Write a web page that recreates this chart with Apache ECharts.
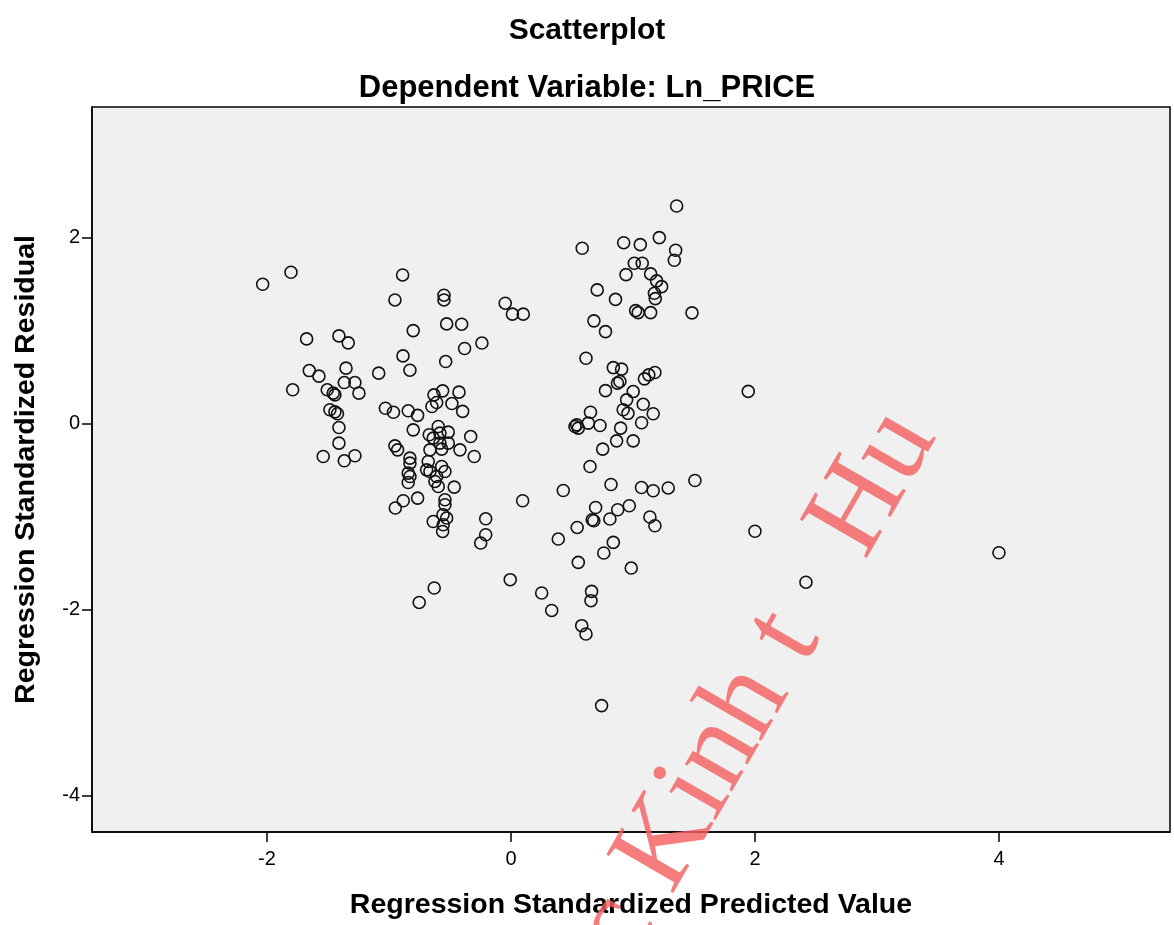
<!DOCTYPE html>
<html>
<head>
<meta charset="utf-8">
<title>Scatterplot</title>
<script src="https://cdn.jsdelivr.net/npm/echarts@6/dist/echarts.min.js"></script>
<style>
  html, body { margin: 0; padding: 0; background: #ffffff; }
  #chart { width: 1174px; height: 925px; }
</style>
</head>
<body>
<div id="chart"></div>
<script>
// Regression standardized predicted values (x) and standardized residuals (y)
const predicted = [
  -2.035, -1.803, -0.888, -0.951, -0.549, -0.549, -0.047, 0.012, 0.101, -1.675,
  -1.410, -1.334, -0.801, -0.527, -0.404, -0.238, -0.380, -0.885, -0.828, -0.535,
  -1.653, -1.574, -1.352, -1.084, -1.789, -1.366, -1.279, -1.246, -1.506, -1.457,
  -1.443, -0.631, -0.560, -0.484, -0.426, -0.648, -0.609, -1.484, -1.443, -1.422,
  -1.029, -0.963, -0.842, -0.765, -0.396, -1.410, -1.410, -1.539, -1.366, -1.279,
  -0.801, -0.951, -0.929, -0.828, -0.828, -0.842, -0.828, -0.842, -0.670, -0.637,
  -0.596, -0.582, -0.514, -0.582, -0.514, -0.664, -0.568, -0.418, -0.330, -0.301,
  -0.678, -0.691, -0.664, -0.609, -0.623, -0.568, -0.541, -0.596, -0.465, -0.541,
  -0.541, -0.557, -0.527, -0.555, -0.560, -0.637, -0.765, -0.883, -0.948, -0.207,
  -0.207, -0.248, -0.006, -0.629, -0.752, 0.096, 1.358, 0.584, 0.924, 1.060,
  1.216, 1.350, 1.339, 1.011, 1.076, 0.943, 1.145, 1.194, 1.235, 1.176,
  1.183, 0.707, 0.857, 1.022, 1.043, 1.145, 1.484, 0.680, 0.775, 0.615,
  0.839, 0.907, 0.775, 0.873, 0.893, 1.094, 1.130, 1.180, 1.002, 0.948,
  1.084, 0.920, 0.652, 1.166, 0.959, 1.071, 0.899, 0.866, 1.002, 0.752,
  0.648, 0.429, 0.820, 1.070, 1.166, 1.289, 1.508, 0.694, 0.666, 0.679,
  0.875, 0.970, 0.811, 0.543, 0.388, 1.139, 1.180, 0.839, 0.761, 0.552,
  0.986, 0.539, 0.552, 0.525, 0.634, 0.730, 0.252, 0.334, 0.661, 0.656,
  0.580, 0.615, 0.743, 1.945, 2.000, 2.418, 4.000
];
const residual = [
  1.502, 1.631, 1.602, 1.333, 1.384, 1.333, 1.298, 1.180, 1.180, 0.914,
  0.946, 0.871, 1.003, 1.075, 1.072, 0.869, 0.810, 0.731, 0.577, 0.670,
  0.573, 0.513, 0.599, 0.545, 0.366, 0.444, 0.444, 0.330, 0.366, 0.330,
  0.312, 0.312, 0.355, 0.218, 0.341, 0.186, 0.229, 0.151, 0.129, 0.108,
  0.167, 0.124, 0.140, 0.091, 0.134, -0.040, -0.208, -0.352, -0.398, -0.344,
  -0.065, -0.237, -0.280, -0.369, -0.423, -0.530, -0.567, -0.631, -0.118, -0.154,
  -0.029, -0.100, -0.089, -0.208, -0.208, -0.280, -0.272, -0.280, -0.137, -0.352,
  -0.405, -0.495, -0.513, -0.567, -0.620, -0.459, -0.513, -0.674, -0.681, -0.817,
  -0.871, -0.978, -1.014, -1.086, -1.158, -1.051, -0.799, -0.828, -0.906, -1.022,
  -1.194, -1.283, -1.677, -1.767, -1.922, -0.828, 2.344, 1.889, 1.949, 1.928,
  2.003, 1.868, 1.760, 1.728, 1.728, 1.605, 1.613, 1.538, 1.476, 1.405,
  1.347, 1.441, 1.339, 1.218, 1.197, 1.197, 1.194, 1.108, 0.992, 0.706,
  0.605, 0.588, 0.357, 0.438, 0.455, 0.484, 0.527, 0.552, 0.347, 0.258,
  0.210, 0.151, 0.124, 0.108, 0.113, 0.011, -0.046, -0.183, -0.183, -0.272,
  -0.459, -0.717, -0.653, -0.685, -0.720, -0.690, -0.610, -0.900, -1.032, -1.043,
  -0.925, -0.882, -1.024, -1.115, -1.240, -1.003, -1.097, -1.276, -1.390, -1.491,
  -1.552, -0.011, -0.046, -0.029, 0.008, -0.018, -1.820, -2.008, -1.803, -1.903,
  -2.172, -2.261, -3.032, 0.349, -1.156, -1.704, -1.387
];

// Tick labels on each axis
const xTicks = [-2, 0, 2, 4];
const yTicks = [-4, -2, 0, 2];

const points = predicted.map((x, i) => [x, residual[i]]);

const sans = '"Liberation Sans", Arial, sans-serif';

const chart = echarts.init(document.getElementById('chart'), null, { renderer: 'canvas' });

chart.setOption({
  animation: false,
  backgroundColor: '#ffffff',
  title: [
    {
      text: 'Scatterplot',
      left: 'center',
      top: 11,
      textStyle: { fontFamily: sans, fontSize: 30, fontWeight: 'bold', color: '#000' }
    },
    {
      text: 'Dependent Variable: Ln_PRICE',
      left: 'center',
      top: 68,
      textStyle: { fontFamily: sans, fontSize: 31, fontWeight: 'bold', color: '#000' }
    }
  ],
  grid: {
    left: 92,
    top: 107,
    right: 4,
    bottom: 92,
    show: true,
    backgroundColor: '#F0F0F0',
    borderColor: '#000',
    borderWidth: 1.5
  },
  xAxis: {
    type: 'value',
    min: -3.434,
    max: 5.402,
    name: 'Regression Standardized Predicted Value',
    nameLocation: 'middle',
    nameGap: 59,
    nameTextStyle: { fontFamily: sans, fontSize: 28.5, fontWeight: 'bold', color: '#000' },
    axisLine: { show: true, onZero: false, lineStyle: { color: '#000', width: 1.5 } },
    axisTick: { show: true, inside: false, length: 10, customValues: xTicks, lineStyle: { color: '#000', width: 1.5 } },
    axisLabel: { customValues: xTicks, margin: 17, fontFamily: sans, fontSize: 20, color: '#000' },
    splitLine: { show: false }
  },
  yAxis: {
    type: 'value',
    min: -4.392,
    max: 3.409,
    name: 'Regression Standardized Residual',
    nameLocation: 'middle',
    nameGap: 51,
    nameTextStyle: { fontFamily: sans, fontSize: 28.5, fontWeight: 'bold', color: '#000' },
    axisLine: { show: true, onZero: false, lineStyle: { color: '#000', width: 1.5 } },
    axisTick: { show: true, inside: false, length: 10, customValues: yTicks, lineStyle: { color: '#000', width: 1.5 } },
    axisLabel: { customValues: yTicks, margin: 12, fontFamily: sans, fontSize: 20, color: '#000' },
    splitLine: { show: false }
  },
  series: [
    {
      type: 'scatter',
      data: points,
      symbol: 'circle',
      symbolSize: 12,
      itemStyle: { color: 'rgba(0,0,0,0)', borderColor: '#111', borderWidth: 1.6, opacity: 1 },
      emphasis: { disabled: true },
      z: 3
    }
  ],
  graphic: [
    {
      // Diagonal watermark text
      type: 'text',
      x: 757,
      y: 686,
      rotation: 60 * Math.PI / 180,
      z: 100,
      silent: true,
      style: {
        text: 'c Kinh t   Hu',
        font: '118px "Liberation Serif", "Times New Roman", serif',
        fill: 'rgba(244, 96, 96, 0.82)',
        align: 'center',
        verticalAlign: 'middle'
      }
    }
  ]
});
</script>
</body>
</html>
